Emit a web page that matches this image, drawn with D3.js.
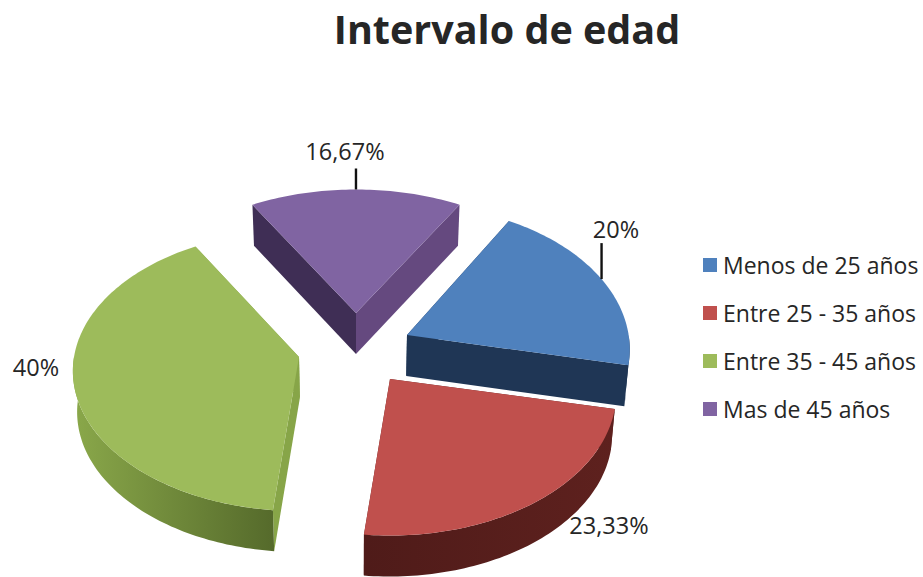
<!DOCTYPE html>
<html>
<head>
<meta charset="utf-8">
<title>Intervalo de edad</title>
<script src="https://cdn.jsdelivr.net/npm/d3@7"></script>
<style>
  html, body { margin: 0; padding: 0; background: #fff; }
  text { font-family: "Open Sans", sans-serif; fill: #262626; }
</style>
</head>
<body>
<div id="chart"></div>
<script>
// 1: DATA
const categories = ["Menos de 25 años", "Entre 25 - 35 años", "Entre 35 - 45 años", "Mas de 45 años"];
const values = [20, 23.33, 40, 16.67];

// colours per slice
const topColors = ["#4f81bd", "#c0504d", "#9dbb5b", "#8064a2"];
const wallStart = ["#1f3655", "#5e211e", "#8aa84a", "#3f2e55"];
const wallEnd = ["#1f3655", "#4f1b19", "#556a2b", "#3f2e55"];
const startFace = ["#1f3655", "#5e211e", "#87a548", "#3f2e55"];
const endFace = ["#1f3655", "#5e211e", "#87a548", "#65497f"];

// 2: LAYOUT
const width = 923, height = 577;
const radiusX = 225, radiusY = 143, persp = 0.1; // tilt of the pie
const depth = 41, bottomScale = 0.985, vanishX = 356;
const apex = [[407, 335], [390, 379], [299, 357], [356, 313]]; // exploded slice tips
const scaleX = [0.985, 1, 1, 1];
const scaleY = [1, 0.985, 0.97, 0.95];
const labelPos = [[616, 238], [609, 534], [36, 376], [345, 160]];
const leaderLen = [36, 0, 0, 21];

const svg = d3.select("#chart")
    .append("svg")
    .attr("width", width)
    .attr("height", height);

const defs = svg.append("defs");

// 3: PIE ANGLES (slice 1 starts at 30 deg, clockwise)
const start = Math.PI / 6;
const pie = d3.pie().sort(null).startAngle(start).endAngle(start + 2 * Math.PI);
const arcs = pie(values);

// screen position of a rim point, on the top (dz = 0) or bottom (dz = 1) ring
function project(i, angle, r, dz) {
    const u = Math.sin(angle) * r, v = Math.cos(angle) * r;
    const p = 1 / (1 + persp * v);
    let x = apex[i][0] + radiusX * scaleX[i] * u * p;
    let y = apex[i][1] - radiusY * scaleY[i] * v * p;
    if (dz) {
        x = vanishX + (x - vanishX) * bottomScale;
        y += depth;
    }
    return [x, y];
}

function rim(i, a0, a1, dz) {
    const n = Math.max(2, Math.ceil((a1 - a0) / 0.02));
    return d3.range(n + 1).map(k => project(i, a0 + (a1 - a0) * k / n, 1, dz));
}

const line = d3.line();

// 4: DRAW SLICES (walls first, top face over them)
const drawOrder = [3, 0, 2, 1];

drawOrder.forEach(i => {
    const d = arcs[i];
    const g = svg.append("g").attr("class", "slice");

    // cut faces
    [[d.startAngle, startFace[i]], [d.endAngle, endFace[i]]].forEach(([a, c]) => {
        g.append("path")
            .attr("d", line([
                project(i, a, 0, 0), project(i, a, 1, 0),
                project(i, a, 1, 1), project(i, a, 0, 1)
            ]) + "Z")
            .attr("fill", c);
    });

    // outer wall, only the part that faces the viewer
    const a0 = Math.max(d.startAngle, Math.PI / 2);
    const a1 = Math.min(d.endAngle, 3 * Math.PI / 2);
    if (a1 > a0) {
        const pts = rim(i, a0, a1, 0).concat(rim(i, a0, a1, 1).reverse());
        const xs = d3.extent(pts, p => p[0]);
        const grad = defs.append("linearGradient")
            .attr("id", "wall" + i)
            .attr("gradientUnits", "userSpaceOnUse")
            .attr("x1", i === 2 ? xs[0] : xs[1]).attr("x2", i === 2 ? xs[1] : xs[0])
            .attr("y1", 0).attr("y2", 0);
        grad.append("stop").attr("offset", 0).attr("stop-color", wallStart[i]);
        grad.append("stop").attr("offset", 1).attr("stop-color", wallEnd[i]);
        g.append("path")
            .attr("d", line(pts) + "Z")
            .attr("fill", `url(#wall${i})`);
    }

    // top face
    const top = [project(i, 0, 0, 0)].concat(rim(i, d.startAngle, d.endAngle, 0));
    g.append("path")
        .attr("d", line(top) + "Z")
        .attr("fill", topColors[i]);
});

// 5: DATA LABELS AND LEADERS
arcs.forEach((d, i) => {
    if (leaderLen[i] > 0) {
        const p = project(i, (d.startAngle + d.endAngle) / 2, 1, 0);
        svg.append("line")
            .attr("x1", p[0]).attr("x2", p[0])
            .attr("y1", p[1]).attr("y2", p[1] - leaderLen[i])
            .attr("stroke", "#111")
            .attr("stroke-width", 2.4);
    }
    svg.append("text")
        .attr("x", labelPos[i][0])
        .attr("y", labelPos[i][1])
        .attr("text-anchor", "middle")
        .style("font-size", "23.5px")
        .text(String(d.data).replace(".", ",") + "%");
});

// 6: LEGEND
const legend = svg.selectAll(".legend")
    .data(categories)
    .enter().append("g")
    .attr("class", "legend")
    .attr("transform", (d, i) => `translate(703,${265 + i * 48})`);

legend.append("rect")
    .attr("y", -7)
    .attr("width", 14)
    .attr("height", 14)
    .attr("fill", (d, i) => topColors[i]);

legend.append("text")
    .attr("x", 20)
    .attr("y", 8.5)
    .style("font-size", "23px")
    .text(d => d);

// 7: TITLE
svg.append("text")
    .attr("x", 507)
    .attr("y", 44)
    .attr("text-anchor", "middle")
    .style("font-size", "39.5px")
    .style("font-weight", "700")
    .text("Intervalo de edad");
</script>
</body>
</html>
